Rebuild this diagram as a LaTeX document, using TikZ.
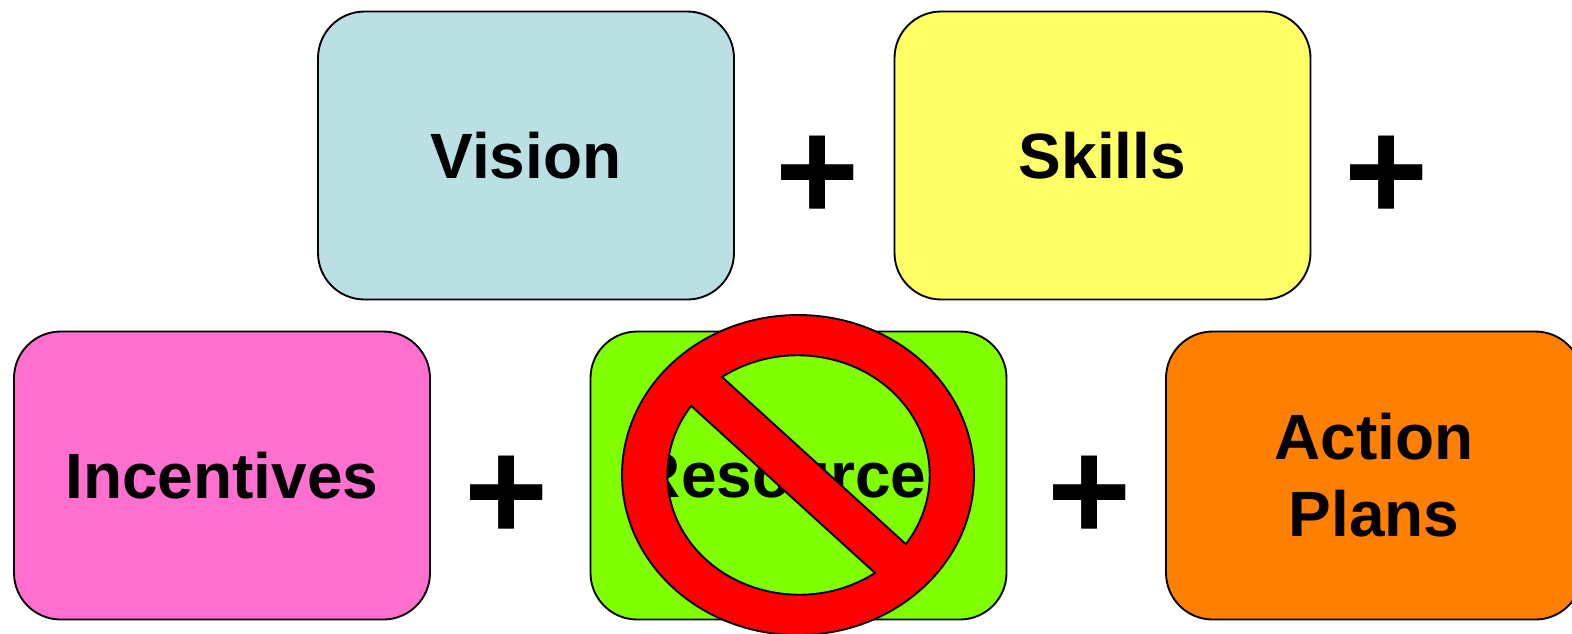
\documentclass[tikz,border=0pt]{standalone}
\usepackage{fontspec}
\setmainfont{Liberation Sans}
\usepackage{tikz}

\definecolor{visionfill}{HTML}{BBE0E3}
\definecolor{skillsfill}{HTML}{FFFF66}
\definecolor{incentivefill}{HTML}{FF6FCF}
\definecolor{resourcefill}{HTML}{80FF00}
\definecolor{actionfill}{HTML}{FF8000}

\tikzset{
  factor/.style={draw=black,line width=1.4pt,rounded corners=35pt,minimum width=312pt,minimum height=216pt,inner sep=0pt,align=center,font=\fontsize{48}{57.6}\selectfont\bfseries},
  plussign/.style={inner sep=0pt,font=\fontsize{108}{108}\selectfont\bfseries}
}

\begin{document}
\begin{tikzpicture}[x=0.75pt,y=0.75pt,yscale=-1,xscale=1]
\useasboundingbox (0,0) rectangle (1572,633);

% Text Node
\draw (526,155.5) node [factor,fill=visionfill] (vision) {Vision};
% Text Node
\draw (1102.5,155.5) node [factor,fill=skillsfill] (skills) {Skills};
% Text Node
\draw (222,475.5) node [factor,fill=incentivefill] (incentives) {Incentives};
% Text Node
\draw (798.5,475.5) node [factor,fill=resourcefill] (resources) {Resources};
% Text Node
\draw (1374,475.5) node [factor,fill=actionfill] (action) {Action\\Plans};

% Text Node
\draw (818,178) node [plussign] (plusa) {+};
% Text Node
\draw (1387,178) node [plussign] (plusb) {+};
% Text Node
\draw (507,498) node [plussign] (plusc) {+};
% Text Node
\draw (1090,498) node [plussign] (plusd) {+};

%Shape: No Symbol
\draw [fill=red,line width=1.4pt,even odd rule] (798,475) ellipse [x radius=176,y radius=160]
  (722,377) arc [start angle=-125,end angle=35,x radius=132,y radius=120] -- cycle
  (875,573) arc [start angle=55,end angle=215,x radius=132,y radius=120] -- cycle ;

\end{tikzpicture}
\end{document}
